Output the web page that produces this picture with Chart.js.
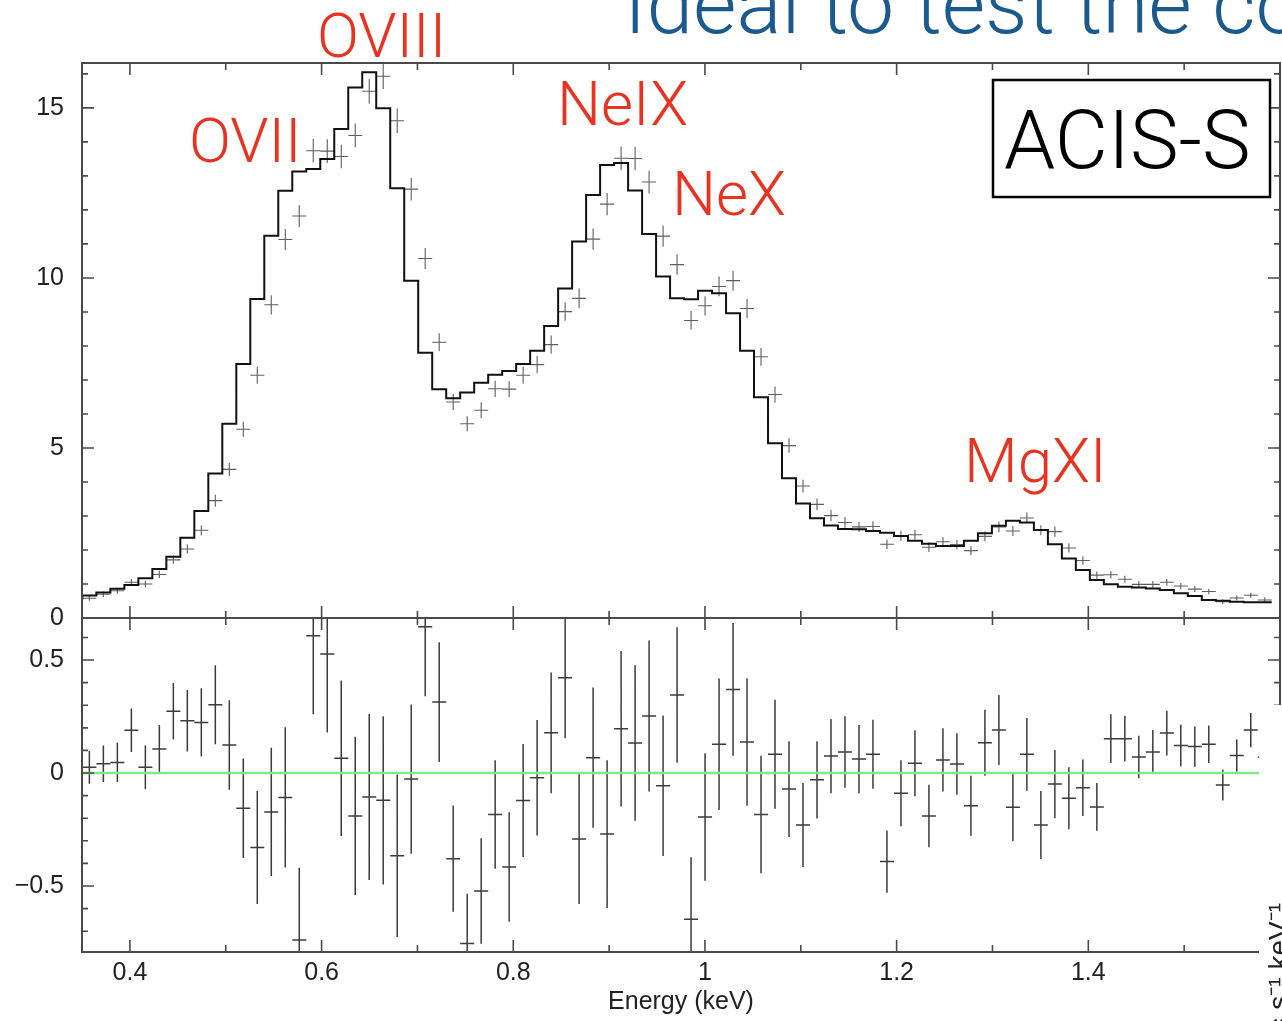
<!DOCTYPE html>
<html lang="en">
<head>
<meta charset="UTF-8">
<title>ACIS-S spectrum</title>
<script src="https://cdn.jsdelivr.net/npm/chart.js@4.4.1/dist/chart.umd.min.js"></script>
<style>
  html, body { margin: 0; padding: 0; background: #fff; }
  body { width: 1282px; height: 1021px; position: relative; overflow: hidden; }
  .panel { position: absolute; left: 0; width: 1282px; }
  #topPanel { top: 0; height: 645px; }
  #bottomPanel { top: 610px; height: 411px; }
</style>
</head>
<body>
<div class="panel" id="topPanel"><canvas id="specChart"></canvas></div>
<div class="panel" id="bottomPanel"><canvas id="residChart"></canvas></div>
<script>
// ACIS PI channels are 14.6 eV wide, the spectrum runs over channels 24..108
const CHANNEL_KEV = 0.0146;
const FIRST_CHANNEL = 24;

// folded model, counts s^-1 keV^-1 (one value per channel)
const model = [
  0.55, 0.66, 0.75, 0.86, 0.97, 1.17, 1.44, 1.80, 2.36, 3.15,
  4.25, 5.71, 7.47, 9.38, 11.24, 12.56, 13.13, 13.20, 13.50, 14.38,
  15.60, 16.05, 14.99, 12.64, 9.92, 7.80, 6.73, 6.46, 6.63, 6.92,
  7.15, 7.26, 7.47, 7.86, 8.59, 9.69, 11.07, 12.44, 13.32, 13.38,
  12.57, 11.29, 10.04, 9.40, 9.37, 9.62, 9.55, 8.96, 7.86, 6.49,
  5.14, 4.11, 3.37, 2.93, 2.72, 2.62, 2.61, 2.56, 2.51, 2.41,
  2.27, 2.18, 2.12, 2.12, 2.27, 2.49, 2.71, 2.86, 2.81, 2.59,
  2.17, 1.75, 1.41, 1.12, 0.99, 0.92, 0.90, 0.87, 0.82, 0.73,
  0.65, 0.53, 0.51, 0.48, 0.46
];

// observed counts
const counts = [
  0.58, 0.70, 0.80, 1.05, 1.00, 1.28, 1.71, 2.03, 2.58, 3.45,
  4.37, 5.55, 7.14, 9.21, 11.13, 11.82, 13.74, 13.73, 13.57, 14.19,
  15.49, 15.93, 14.62, 12.61, 10.57, 8.11, 6.35, 5.71, 6.11, 6.74,
  6.73, 7.14, 7.45, 8.04, 9.01, 9.40, 11.14, 12.17, 13.52, 13.51,
  12.82, 11.23, 10.39, 8.75, 9.18, 9.75, 9.92, 9.10, 7.68, 6.57,
  5.07, 3.88, 3.34, 3.01, 2.81, 2.68, 2.69, 2.17, 2.42, 2.45,
  2.08, 2.24, 2.16, 1.98, 2.40, 2.68, 2.56, 2.94, 2.58, 2.54,
  2.06, 1.69, 1.26, 1.27, 1.14, 0.99, 0.99, 1.05, 0.94, 0.85,
  0.78, 0.48, 0.59, 0.67, 0.53
];

// residuals (data - model) and 1 sigma errors
const resid = [
  0.025, 0.041, 0.047, 0.189, 0.025, 0.106, 0.273, 0.231, 0.224, 0.302,
  0.124, -0.156, -0.33, -0.172, -0.108, -0.739, 0.608, 0.527, 0.065, -0.19,
  -0.106, -0.121, -0.366, -0.027, 0.647, 0.314, -0.379, -0.754, -0.522, -0.184,
  -0.416, -0.122, -0.021, 0.178, 0.422, -0.292, 0.068, -0.27, 0.196, 0.133,
  0.252, -0.056, 0.345, -0.647, -0.195, 0.127, 0.37, 0.137, -0.184, 0.083,
  -0.071, -0.23, -0.03, 0.075, 0.093, 0.062, 0.083, -0.392, -0.09, 0.043,
  -0.19, 0.058, 0.04, -0.145, 0.134, 0.19, -0.152, 0.083, -0.23, -0.049,
  -0.112, -0.065, -0.15, 0.152, 0.152, 0.071, 0.093, 0.177, 0.122, 0.117,
  0.127, -0.053, 0.077, 0.19, 0.07
];
const residErr = [
  0.072, 0.081, 0.087, 0.096, 0.097, 0.107, 0.125, 0.136, 0.151, 0.175,
  0.198, 0.22, 0.25, 0.284, 0.31, 0.32, 0.348, 0.348, 0.344, 0.35,
  0.367, 0.372, 0.36, 0.33, 0.307, 0.265, 0.235, 0.22, 0.233, 0.24,
  0.242, 0.25, 0.256, 0.267, 0.268, 0.288, 0.31, 0.327, 0.344, 0.344,
  0.334, 0.311, 0.30, 0.274, 0.282, 0.291, 0.294, 0.282, 0.26, 0.241,
  0.212, 0.186, 0.171, 0.164, 0.158, 0.151, 0.153, 0.138, 0.146, 0.146,
  0.138, 0.14, 0.136, 0.133, 0.146, 0.155, 0.15, 0.161, 0.15, 0.151,
  0.137, 0.125, 0.106, 0.108, 0.101, 0.094, 0.097, 0.099, 0.092, 0.089,
  0.083, 0.069, 0.071, 0.076, 0.07
];

// axes
const xTicks = [0.4, 0.6, 0.8, 1.0, 1.2, 1.4];
const xTickLabels = ['0.4', '0.6', '0.8', '1', '1.2', '1.4'];
const xMinorTicks = [0.5, 0.7, 0.9, 1.1, 1.3, 1.5];
const yTopTicks = [0, 5, 10, 15];
const yTopMinor = [1, 2, 3, 4, 6, 7, 8, 9, 11, 12, 13, 14, 16];
const yResTicks = [-0.5, 0, 0.5];
const yResTickLabels = ['\u22120.5', '0', '0.5'];
const yResMinor = [-0.7, -0.6, -0.4, -0.3, -0.2, -0.1, 0.1, 0.2, 0.3, 0.4, 0.6];

// slide annotations (page pixels)
const lineLabels = [
  { text: 'OVIII', x: 317, y: 57 },
  { text: 'OVII', x: 189, y: 162 },
  { text: 'NeIX', x: 557, y: 125 },
  { text: 'NeX', x: 672, y: 215 },
  { text: 'MgXI', x: 964, y: 482 }
];

const AXIS_FONT = { family: '"Liberation Sans", Arial, Helvetica, sans-serif', size: 25 };
const LIGHT = '"Roboto", "Open Sans", "Liberation Sans", sans-serif';

const edges = model.map((_, i) => (FIRST_CHANNEL + i) * CHANNEL_KEV);
const lastEdge = (FIRST_CHANNEL + model.length) * CHANNEL_KEV;

const modelSteps = model.map((v, i) => ({ x: edges[i], y: v }));
modelSteps.push({ x: lastEdge, y: model[model.length - 1] });

const dataCrosses = counts.map((v, i) => ({
  x: edges[i] + CHANNEL_KEV / 2, y: v,
  xMin: edges[i], xMax: edges[i] + CHANNEL_KEV,
  yMin: v - residErr[i], yMax: v + residErr[i]
}));
const residCrosses = resid.map((v, i) => ({
  x: edges[i] + CHANNEL_KEV / 2, y: v,
  xMin: edges[i], xMax: edges[i] + CHANNEL_KEV,
  yMin: v - residErr[i], yMax: v + residErr[i]
}));

// keep the plot box where the layout padding puts it
function fixY(s) { s.width = 82; s.paddingTop = 0; s.paddingBottom = 0; }
function fixX(s) { s.height = 69; s.paddingLeft = 0; s.paddingRight = 0; }

// error crosses, drawn before the datasets so the model / zero line sit on top
const crossPlugin = {
  id: 'crosses',
  beforeDatasetsDraw(chart) {
    const { ctx, chartArea: a, scales: { x, y } } = chart;
    ctx.save();
    ctx.beginPath();
    ctx.rect(a.left, a.top, a.right - a.left, a.bottom - a.top);
    ctx.clip();
    chart.data.datasets.forEach(ds => {
      if (!ds.crosses) return;
      ctx.strokeStyle = ds.crossColor;
      ctx.lineWidth = ds.crossWidth;
      ctx.beginPath();
      ds.data.forEach(p => {
        const yc = y.getPixelForValue(p.y);
        const xc = x.getPixelForValue(p.x);
        ctx.moveTo(x.getPixelForValue(p.xMin), yc);
        ctx.lineTo(x.getPixelForValue(p.xMax), yc);
        ctx.moveTo(xc, y.getPixelForValue(p.yMin));
        ctx.lineTo(xc, y.getPixelForValue(p.yMax));
      });
      ctx.stroke();
    });
    ctx.restore();
  }
};

// box frame with inward ticks on all four sides
const framePlugin = {
  id: 'frame',
  afterDraw(chart, args, opts) {
    const { ctx, chartArea: a, scales: { x, y } } = chart;
    ctx.save();
    ctx.strokeStyle = '#4a4a4a';
    ctx.lineWidth = 2;
    ctx.strokeRect(a.left, a.top, a.right - a.left, a.bottom - a.top);
    ctx.lineWidth = 1.6;
    ctx.beginPath();
    const xt = (vals, len) => vals.forEach(v => {
      const px = x.getPixelForValue(v);
      ctx.moveTo(px, a.top); ctx.lineTo(px, a.top + len);
      ctx.moveTo(px, a.bottom); ctx.lineTo(px, a.bottom - len);
    });
    const yt = (vals, len) => vals.forEach(v => {
      const py = y.getPixelForValue(v);
      ctx.moveTo(a.left, py); ctx.lineTo(a.left + len, py);
      ctx.moveTo(a.right, py); ctx.lineTo(a.right - len, py);
    });
    xt(xTicks, 12); xt(xMinorTicks, 7);
    yt(opts.major, 12); yt(opts.minor, 6);
    ctx.stroke();
    ctx.restore();
  }
};

const slidePlugin = {
  id: 'slide',
  afterDraw(chart) {
    const ctx = chart.ctx;
    ctx.save();
    ctx.textBaseline = 'alphabetic';
    ctx.textAlign = 'left';
    ctx.fillStyle = '#1b5a8c';
    ctx.font = '300 84px ' + LIGHT;
    ctx.fillText('Ideal to test the co', 624, 33);
    ctx.fillStyle = '#e9321f';
    ctx.font = '300 62px ' + LIGHT;
    lineLabels.forEach(l => ctx.fillText(l.text, l.x, l.y));
    // instrument box
    ctx.fillStyle = '#fff';
    ctx.fillRect(993, 80, 277, 117);
    ctx.strokeStyle = '#000';
    ctx.lineWidth = 2.5;
    ctx.strokeRect(993, 80, 277, 117);
    ctx.fillStyle = '#000';
    ctx.font = '300 82px ' + LIGHT;
    ctx.fillText('ACIS-S', 1004, 168);
    ctx.restore();
  }
};

// the next slide image covers the bottom right corner
const coverPlugin = {
  id: 'cover',
  afterDraw(chart) {
    const ctx = chart.ctx;
    const top = chart.canvas.getBoundingClientRect().top;
    ctx.save();
    ctx.fillStyle = '#fff';
    ctx.fillRect(1259, 705 - top, 30, 1021);
    ctx.translate(1288, 903 - top);
    ctx.rotate(-Math.PI / 2);
    ctx.textAlign = 'right';
    ctx.fillStyle = '#222';
    ctx.font = '28px "Liberation Sans", Arial, sans-serif';
    ctx.fillText('normalized counts s\u207B\u00B9 keV\u207B\u00B9', 0, 0);
    ctx.restore();
  }
};

new Chart(document.getElementById('specChart'), {
  type: 'line',
  data: {
    datasets: [
      { data: modelSteps, stepped: 'after', borderColor: '#111', borderWidth: 2, pointRadius: 0, fill: false },
      { data: dataCrosses, showLine: false, pointRadius: 0, crosses: true, crossColor: 'rgba(40,40,40,0.75)', crossWidth: 1.1 }
    ]
  },
  options: {
    responsive: true, maintainAspectRatio: false, animation: false,
    layout: { padding: { top: 63, right: 2, bottom: 27, left: 0 } },
    plugins: { legend: { display: false }, tooltip: { enabled: false }, frame: { major: yTopTicks, minor: yTopMinor } },
    scales: {
      x: { type: 'linear', min: 0.35, max: 1.6, display: false },
      y: {
        min: 0, max: 16.32,
        grid: { display: false, drawTicks: false }, border: { display: false },
        afterBuildTicks: s => { s.ticks = yTopTicks.map(v => ({ value: v })); },
        afterFit: fixY,
        ticks: { padding: 18, color: '#222', font: AXIS_FONT, callback: v => String(v) }
      }
    }
  },
  plugins: [crossPlugin, framePlugin, slidePlugin]
});

new Chart(document.getElementById('residChart'), {
  type: 'line',
  data: {
    datasets: [
      { data: residCrosses, showLine: false, pointRadius: 0, crosses: true, crossColor: 'rgba(25,25,25,0.85)', crossWidth: 1.5 },
      { data: [{ x: 0.35, y: 0 }, { x: 1.6, y: 0 }], borderColor: '#84e684', borderWidth: 2.6, pointRadius: 0 }
    ]
  },
  options: {
    responsive: true, maintainAspectRatio: false, animation: false,
    layout: { padding: { top: 8, right: 2, bottom: 0, left: 0 } },
    plugins: { legend: { display: false }, tooltip: { enabled: false }, frame: { major: yResTicks, minor: yResMinor } },
    scales: {
      x: {
        type: 'linear', min: 0.35, max: 1.6,
        grid: { display: false, drawTicks: false }, border: { display: false },
        afterBuildTicks: s => { s.ticks = xTicks.map(v => ({ value: v })); },
        afterFit: fixX,
        ticks: { padding: 6, color: '#222', font: AXIS_FONT, maxRotation: 0,
          callback: v => xTickLabels[xTicks.indexOf(v)] },
        title: { display: true, text: 'Energy (keV)', color: '#222', font: AXIS_FONT, padding: { top: 0, bottom: 4 } }
      },
      y: {
        min: -0.792, max: 0.686,
        grid: { display: false, drawTicks: false }, border: { display: false },
        afterBuildTicks: s => { s.ticks = yResTicks.map(v => ({ value: v })); },
        afterFit: fixY,
        ticks: { padding: 18, color: '#222', font: AXIS_FONT,
          callback: v => yResTickLabels[yResTicks.indexOf(v)] }
      }
    }
  },
  plugins: [crossPlugin, framePlugin, coverPlugin]
});
</script>
</body>
</html>
